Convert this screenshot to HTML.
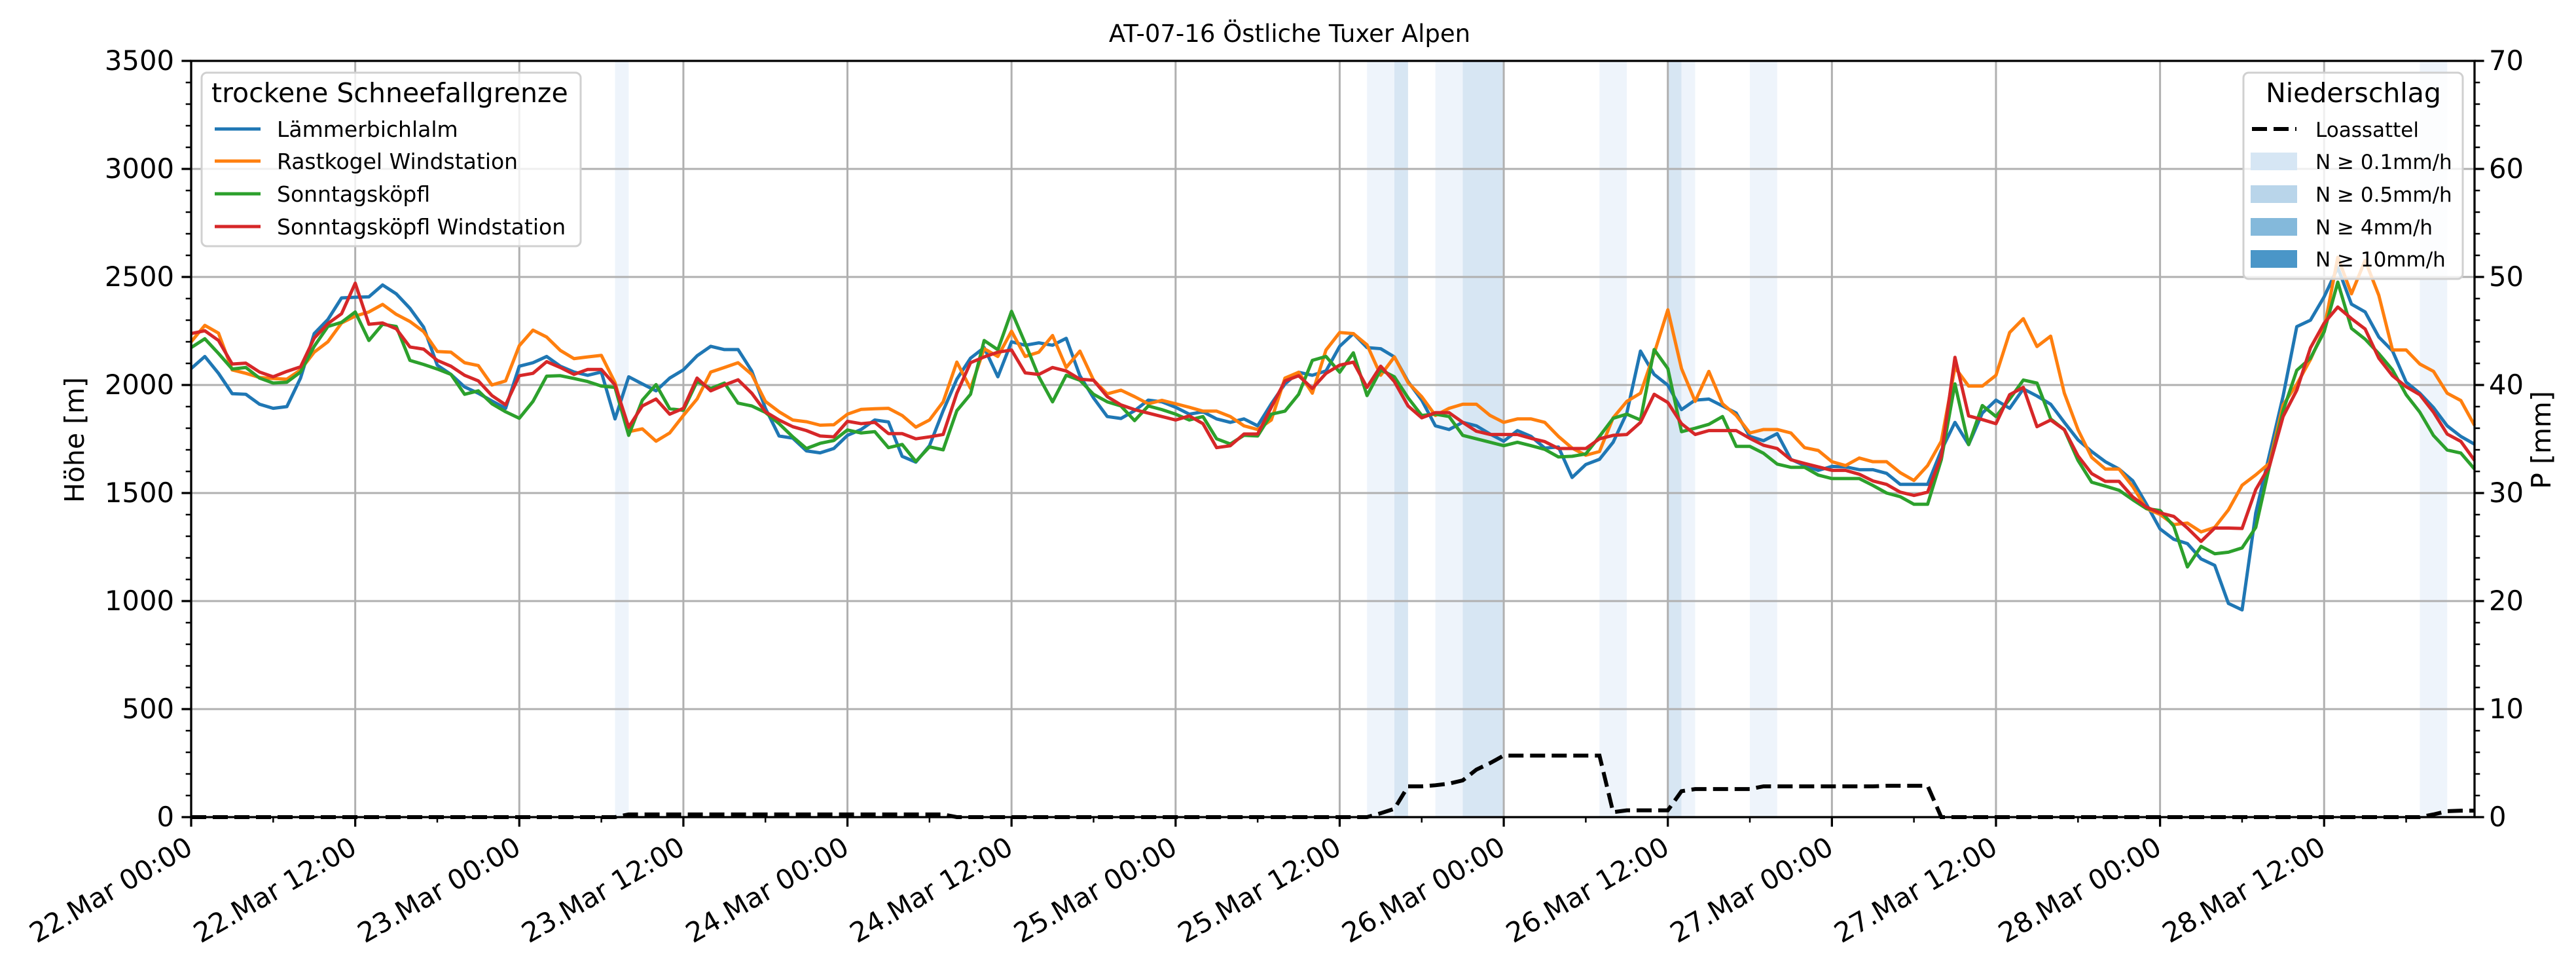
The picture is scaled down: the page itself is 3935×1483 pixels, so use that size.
<!DOCTYPE html>
<html><head><meta charset="utf-8"><title>AT-07-16 Östliche Tuxer Alpen</title>
<style>
html,body{margin:0;padding:0;background:#fff;}
svg{display:block;font-family:"DejaVu Sans","Liberation Sans",sans-serif;}
</style></head>
<body>
<svg id="chart" xmlns="http://www.w3.org/2000/svg" width="3935" height="1483" viewBox="0 0 3935 1483">
<rect x="0" y="0" width="3935" height="1483" fill="#fff"/>
<g id="bands"></g>
<g id="grid"></g>
<g id="series"></g>
<g id="axes"></g>
<text x="1970" y="64" font-size="37" text-anchor="middle">AT-07-16 Östliche Tuxer Alpen</text>
<text transform="translate(128,672) rotate(-90)" font-size="41" text-anchor="middle">Höhe [m]</text>
<text transform="translate(3896,672) rotate(-90)" font-size="41" text-anchor="middle">P [mm]</text>
<g>
<rect x="308" y="111" width="579" height="265" rx="8" fill="#fff" fill-opacity="0.8" stroke="#d0d0d0" stroke-width="3"/>
<text x="323" y="156" font-size="41">trockene Schneefallgrenze</text>
<line x1="328" y1="197" x2="398" y2="197" stroke="#1f77b4" stroke-width="5"/>
<text x="423" y="209" font-size="33">Lämmerbichlalm</text>
<line x1="328" y1="246" x2="398" y2="246" stroke="#ff7f0e" stroke-width="5"/>
<text x="423" y="258" font-size="33">Rastkogel Windstation</text>
<line x1="328" y1="296" x2="398" y2="296" stroke="#2ca02c" stroke-width="5"/>
<text x="423" y="308" font-size="33">Sonntagsköpfl</text>
<line x1="328" y1="346" x2="398" y2="346" stroke="#d62728" stroke-width="5"/>
<text x="423" y="358" font-size="33">Sonntagsköpfl Windstation</text>
</g>
<g>
<rect x="3427" y="111" width="335" height="315" rx="8" fill="#fff" fill-opacity="0.8" stroke="#d0d0d0" stroke-width="3"/>
<text x="3595" y="156" font-size="41" text-anchor="middle">Niederschlag</text>
<line x1="3440" y1="197" x2="3508" y2="197" stroke="#000" stroke-width="6" stroke-dasharray="23,10"/>
<text x="3537" y="209" font-size="31">Loassattel</text>
<rect x="3438" y="233" width="71" height="27" fill="#d6e6f4"/>
<text x="3537" y="258" font-size="31">N ≥ 0.1mm/h</text>
<rect x="3438" y="283" width="71" height="27" fill="#b9d5ea"/>
<text x="3537" y="308" font-size="31">N ≥ 0.5mm/h</text>
<rect x="3438" y="333" width="71" height="27" fill="#84b9db"/>
<text x="3537" y="358" font-size="31">N ≥ 4mm/h</text>
<rect x="3438" y="382" width="71" height="27" fill="#4a96c8"/>
<text x="3537" y="407" font-size="31">N ≥ 10mm/h</text>
</g>
</svg>
<script>
const hours = Array.from({length:168},(_,i)=>i);
const xTickHours = [0,12,24,36,48,60,72,84,96,108,120,132,144,156];
const xTickLabels = ["22.Mar 00:00","22.Mar 12:00","23.Mar 00:00","23.Mar 12:00","24.Mar 00:00","24.Mar 12:00","25.Mar 00:00","25.Mar 12:00","26.Mar 00:00","26.Mar 12:00","27.Mar 00:00","27.Mar 12:00","28.Mar 00:00","28.Mar 12:00"];
const yTicks = [0,500,1000,1500,2000,2500,3000,3500];
const y2Ticks = [0,10,20,30,40,50,60,70];
const laemmerbichlalm = [2076,2132,2054,1960,1957,1911,1892,1900,2032,2238,2303,2403,2406,2408,2463,2422,2355,2268,2092,2049,1991,1962,1926,1892,2087,2103,2132,2087,2060,2045,2060,1843,2038,2005,1973,
2032,2070,2135,2179,2164,2164,2065,1892,1764,1754,1695,1686,1706,1767,1794,1838,1829,1670,1643,1719,1881,2027,2124,2173,2038,2200,2184,2195,2184,2216,2043,1940,
1854,1845,1881,1930,1922,1897,1865,1876,1843,1827,1843,1811,1913,2005,2059,2045,2065,2179,2238,2173,2168,2130,2016,1930,1811,1794,1827,1811,1773,1740,1789,1762,1708,1713,1572,
1632,1656,1735,1870,2157,2049,1999,1886,1930,1935,1903,1870,1762,1742,1775,1656,1627,1605,1623,1621,1608,1608,1591,1540,1540,1540,1697,1827,1724,1870,1930,1892,
1982,1949,1911,1827,1746,1692,1645,1611,1557,1449,1334,1286,1266,1195,1165,989,959,1408,1678,1949,2270,2300,2408,2543,2374,2338,2222,2158,2013,1962,1895,1811,1762,1726];
const rastkogel = [2200,2276,2240,2070,2054,2035,2030,2027,2070,2152,2200,2287,2319,2338,2373,2327,2294,2247,2155,2152,2103,2090,2000,2019,2182,2254,2222,2160,2122,2130,2137,2011,1784,1797,1740,
1778,1859,1935,2060,2081,2103,2049,1924,1876,1838,1830,1814,1816,1865,1887,1890,1892,1859,1805,1838,1922,2106,1984,2168,2132,2249,2132,2152,2229,2081,2157,2022,
1959,1976,1946,1913,1929,1913,1897,1879,1879,1854,1811,1794,1838,2032,2059,1962,2162,2243,2238,2186,2045,2130,2011,1946,1859,1892,1911,1911,1859,1827,1843,1843,1827,1762,1708,
1675,1692,1848,1924,1962,2146,2348,2076,1924,2063,1913,1859,1778,1794,1794,1778,1710,1697,1645,1627,1662,1645,1645,1594,1558,1627,1740,2081,1995,1995,2045,2243,
2307,2178,2226,1962,1793,1665,1611,1611,1530,1428,1401,1354,1361,1320,1341,1422,1536,1584,1638,1908,2003,2118,2259,2591,2422,2577,2415,2162,2162,2097,2063,1962,1928,1813];
const sonntagskoepfl = [2173,2214,2146,2074,2081,2032,2009,2013,2060,2179,2271,2290,2338,2206,2281,2271,2114,2095,2074,2049,1957,1973,1913,1876,1846,1924,2041,2043,2030,2016,1995,1989,1767,1930,2002,
1890,1883,2016,1984,2009,1916,1903,1873,1821,1760,1706,1730,1743,1792,1778,1784,1710,1725,1646,1714,1700,1881,1957,2206,2163,2341,2193,2038,1922,2045,2022,1957,
1922,1903,1835,1903,1886,1865,1838,1854,1751,1727,1767,1764,1865,1879,1957,2114,2132,2059,2149,1951,2070,2038,1941,1859,1865,1854,1767,1751,1735,1719,1735,1719,1702,1667,1670,
1681,1762,1846,1865,1838,2164,2076,1784,1800,1818,1854,1716,1716,1684,1634,1619,1619,1583,1567,1567,1567,1535,1500,1483,1448,1448,1654,2005,1724,1905,1854,1935,
2023,2009,1843,1793,1651,1550,1532,1513,1469,1428,1419,1347,1158,1253,1219,1226,1246,1341,1624,1881,2068,2124,2246,2476,2262,2212,2145,2070,1955,1874,1766,1699,1685,1611];
const sonntagskoepflWind = [2238,2251,2206,2097,2101,2060,2038,2063,2084,2217,2284,2330,2471,2281,2287,2260,2176,2166,2114,2087,2045,2019,1951,1908,2043,2054,2108,2081,2049,2072,2072,2000,1805,1903,1935,
1865,1892,2032,1973,2000,2024,1962,1876,1838,1807,1789,1764,1760,1832,1821,1827,1775,1775,1751,1760,1771,1962,2103,2130,2152,2162,2056,2049,2081,2065,2027,2022,
1946,1908,1886,1870,1854,1838,1857,1821,1710,1719,1773,1773,1897,2019,2043,1984,2054,2092,2106,1989,2087,2016,1903,1848,1872,1872,1827,1786,1771,1771,1771,1753,1738,1706,1706,
1706,1751,1767,1771,1827,1957,1919,1821,1771,1789,1789,1789,1753,1721,1706,1654,1637,1621,1605,1605,1587,1556,1540,1504,1489,1504,1670,2128,1857,1840,1821,1955,
1989,1807,1838,1793,1672,1590,1554,1554,1482,1435,1408,1392,1338,1276,1338,1338,1336,1516,1624,1854,1976,2172,2286,2361,2307,2259,2124,2043,1992,1955,1874,1773,1739,1651];
const loassattel = [0,0,0,0,0,0,0,0,0,0,0,0,0,0,0,0,0,0,0,0,0,0,0,0,0,0,0,0,0,0,0,0,
0.25,0.25,0.25,0.25,0.25,0.25,0.25,0.25,0.25,0.25,0.25,0.25,0.25,0.25,0.25,0.25,0.25,0.25,0.25,0.25,0.25,0.25,0.25,0.25,
0,0,0,0,0,0,0,0,0,0,0,0,0,0,0,0,0,0,0,0,0,0,0,0,0,0,0,0,0,0,0,
0.36,0.77,2.85,2.85,2.95,3.1,3.4,4.4,5.0,5.7,5.7,5.7,5.7,5.7,5.7,5.7,5.7,
0.46,0.63,0.63,0.63,0.63,2.4,2.6,2.6,2.6,2.6,2.6,2.85,2.85,2.85,2.85,2.85,2.85,2.85,2.85,2.85,2.9,2.9,2.9,2.9,
0,0,0,0,0,0,0,0,0,0,0,0,0,0,0,0,0,0,0,0,0,0,0,0,0,0,0,0,0,0,0,0,0,0,0,0,
0.25,0.55,0.6,0.6];
const bandStart = [31,86,88,91,93,103,108,109,114,163];
const bandEnd   = [32,88,89,93,96,105,109,110,116,165];
const bandLevel = [0,0,1,0,1,0,1,0,0,0];

const NS='http://www.w3.org/2000/svg';
const L=292,R=3780,T=93,B=1248,XMAX=167,YMAX=3500,PMAX=70;
const xS=h=>L+h*(R-L)/XMAX;
const yS=v=>B-v*(B-T)/YMAX;
const pS=v=>B-v*(B-T)/PMAX;
function mk(tag,attrs,parent){const e=document.createElementNS(NS,tag);for(const k in attrs)e.setAttribute(k,attrs[k]);parent.appendChild(e);return e;}
const gB=document.getElementById('bands'),gG=document.getElementById('grid'),gS=document.getElementById('series'),gA=document.getElementById('axes');
const bandColors=['#eef4fb','#d7e6f3'];
bandStart.forEach((s,i)=>{
  const r=mk('rect',{x:xS(s),y:T,width:xS(bandEnd[i])-xS(s),height:B-T,fill:bandColors[bandLevel[i]]},gB);
  
  
});
xTickHours.forEach(h=>{
  const l=mk('line',{x1:xS(h),x2:xS(h),y1:T,y2:B,stroke:'#b0b0b0','stroke-width':3},gG);
  
  
});
yTicks.forEach(v=>{
  const l=mk('line',{x1:L,x2:R,y1:yS(v),y2:yS(v),stroke:'#b0b0b0','stroke-width':3},gG);
  
  
});
const seriesList=[[laemmerbichlalm,'#1f77b4','line-laemmerbichlalm'],[rastkogel,'#ff7f0e','line-rastkogel'],[sonntagskoepfl,'#2ca02c','line-sonntagskoepfl'],[sonntagskoepflWind,'#d62728','line-sonntagskoepfl-wind']];
seriesList.forEach(([d,c,n])=>{
  const p=mk('polyline',{points:d.map((v,i)=>xS(hours[i])+','+yS(v)).join(' '),fill:'none',stroke:c,'stroke-width':5,'stroke-linejoin':'round'},gS);
  
  
});
const pl=mk('polyline',{points:loassattel.map((v,i)=>xS(hours[i])+','+pS(v)).join(' '),fill:'none',stroke:'#000','stroke-width':6,'stroke-dasharray':'23,10'},gS);


const fr=mk('rect',{x:L,y:T,width:R-L,height:B-T,fill:'none',stroke:'#000','stroke-width':3.3},gA);


for(let v=0;v<=YMAX;v+=100){
  const major=v%500===0;
  const t=mk('line',{x1:L,x2:L-(major?14.6:8.3),y1:yS(v),y2:yS(v),stroke:'#000','stroke-width':major?3.3:2.5},gA);
  
  
}
yTicks.forEach(v=>{
  const t=mk('text',{x:L-26,y:yS(v)+14,'font-size':41.7,'text-anchor':'end'},gA);t.textContent=String(v);
  
  
});
for(let v=0;v<=PMAX;v+=2){
  const major=v%10===0;
  const t=mk('line',{x1:R,x2:R+(major?14.6:8.3),y1:pS(v),y2:pS(v),stroke:'#000','stroke-width':major?3.3:2.5},gA);
  
  
}
y2Ticks.forEach(v=>{
  const t=mk('text',{x:R+22,y:pS(v)+14,'font-size':41.7,'text-anchor':'start'},gA);t.textContent=String(v);
  
  
});
for(let h=0;h<=XMAX;h+=6){
  const major=h%12===0;
  const t=mk('line',{x1:xS(h),x2:xS(h),y1:B,y2:B+(major?14.6:8.3),stroke:'#000','stroke-width':major?3.3:2.5},gA);
  
  
}
xTickHours.forEach((h,i)=>{
  const t=mk('text',{transform:'translate('+(xS(h)-10)+','+(B+28)+') rotate(-30)','font-size':41.7,'text-anchor':'end',y:30},gA);
  t.textContent=xTickLabels[i];
  
  
});
</script>
</body></html>
